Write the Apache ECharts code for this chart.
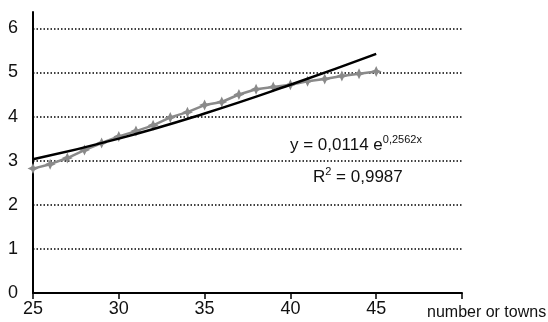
<!DOCTYPE html>
<html><head><meta charset="utf-8">
<script src="https://cdn.jsdelivr.net/npm/echarts@6/dist/echarts.min.js"></script>
<style>html,body{margin:0;padding:0;background:#fff}#c{width:548px;height:322px}</style>
</head><body><div id="c"></div>
<script>
var xValues = [25,26,27,28,29,30,31,32,33,34,35,36,37,38,39,40,41,42,43,44,45];
var yValues = [2.82,2.92,3.06,3.24,3.4,3.55,3.67,3.8,3.98,4.1,4.26,4.33,4.5,4.62,4.67,4.72,4.8,4.85,4.92,4.97,5.02];
var trendX = [25,30,35,40,45];
var trendY = [3.03,3.5,4.07,4.72,5.42];
var xTickLabels = ['25','30','35','40','45',''];
var yTickLabels = ['0','1','2','3','4','5','6'];
var equationText = 'y = 0,0114 e';
var equationExp = '0,2562x';
var r2Text = 'R';
var r2Rest = ' = 0,9987';
var xAxisName = 'number or towns';

var FONT = '"Liberation Sans Narrow","Arial Narrow","Liberation Sans",Arial,sans-serif';
var chart = echarts.init(document.getElementById('c'), null, {renderer:'canvas'});
var star = 'path://M0,-10 L3.2,-3.2 L10,0 L3.2,3.2 L0,10 L-3.2,3.2 L-10,0 L-3.2,-3.2 Z';
chart.setOption({
  animation:false,
  grid:{left:33,right:86,top:12,bottom:29,containLabel:false,outerBoundsMode:'none'},
  xAxis:{type:'value',min:25,max:50,interval:5,
    axisLine:{lineStyle:{color:'#000',width:2}},
    axisTick:{show:true,length:6,lineStyle:{color:'#000',width:1.5}},
    axisLabel:{color:'#111',fontFamily:FONT,fontSize:18,margin:7,
      formatter:function(v){var i=Math.round((v-25)/5);return xTickLabels[i]||'';}},
    splitLine:{show:false},
    name:xAxisName,nameLocation:'end',nameGap:-35,
    nameTextStyle:{color:'#111',fontFamily:FONT,fontSize:16,align:'left',verticalAlign:'top',padding:[12,0,0,0]}
  },
  yAxis:{type:'value',min:0,max:6.37,interval:1,
    axisLine:{show:true,lineStyle:{color:'#000',width:2}},
    axisTick:{show:false},
    axisLabel:{color:'#111',fontFamily:FONT,fontSize:18,margin:15,showMaxLabel:false,
      formatter:function(v){return Math.abs(v-Math.round(v))<1e-6?(yTickLabels[Math.round(v)]||''):'';}},
    splitLine:{show:true,showMinLine:false,showMaxLine:false,lineStyle:{color:'#000',width:1.5,type:[1.5,2]}}
  },
  series:[
    {type:'line',data:xValues.map(function(x,i){return [x,yValues[i]];}),
      lineStyle:{color:'#8a8a8a',width:2.5},itemStyle:{color:'#8a8a8a'},
      symbol:star,symbolSize:11,showSymbol:true,z:2},
    {type:'line',data:trendX.map(function(x,i){return [x,trendY[i]];}),
      smooth:true,showSymbol:false,lineStyle:{color:'#000',width:2.5},z:3}
  ],
  graphic:[
    {type:'text',left:290,top:134,style:{
      text:'{a|'+equationText+'}{s|'+equationExp+'}',
      rich:{a:{fontFamily:FONT,fontSize:17,fill:'#111',lineHeight:22},
            s:{fontFamily:FONT,fontSize:11,fill:'#111',verticalAlign:'top',lineHeight:22,padding:[0,0,8,0]}}}},
    {type:'text',left:313,top:166,style:{
      text:'{a|'+r2Text+'}{s|2}{a|'+r2Rest+'}',
      rich:{a:{fontFamily:FONT,fontSize:17,fill:'#111',lineHeight:22},
            s:{fontFamily:FONT,fontSize:11,fill:'#111',verticalAlign:'top',lineHeight:22,padding:[0,0,8,0]}}}}
  ]
});
</script></body></html>
